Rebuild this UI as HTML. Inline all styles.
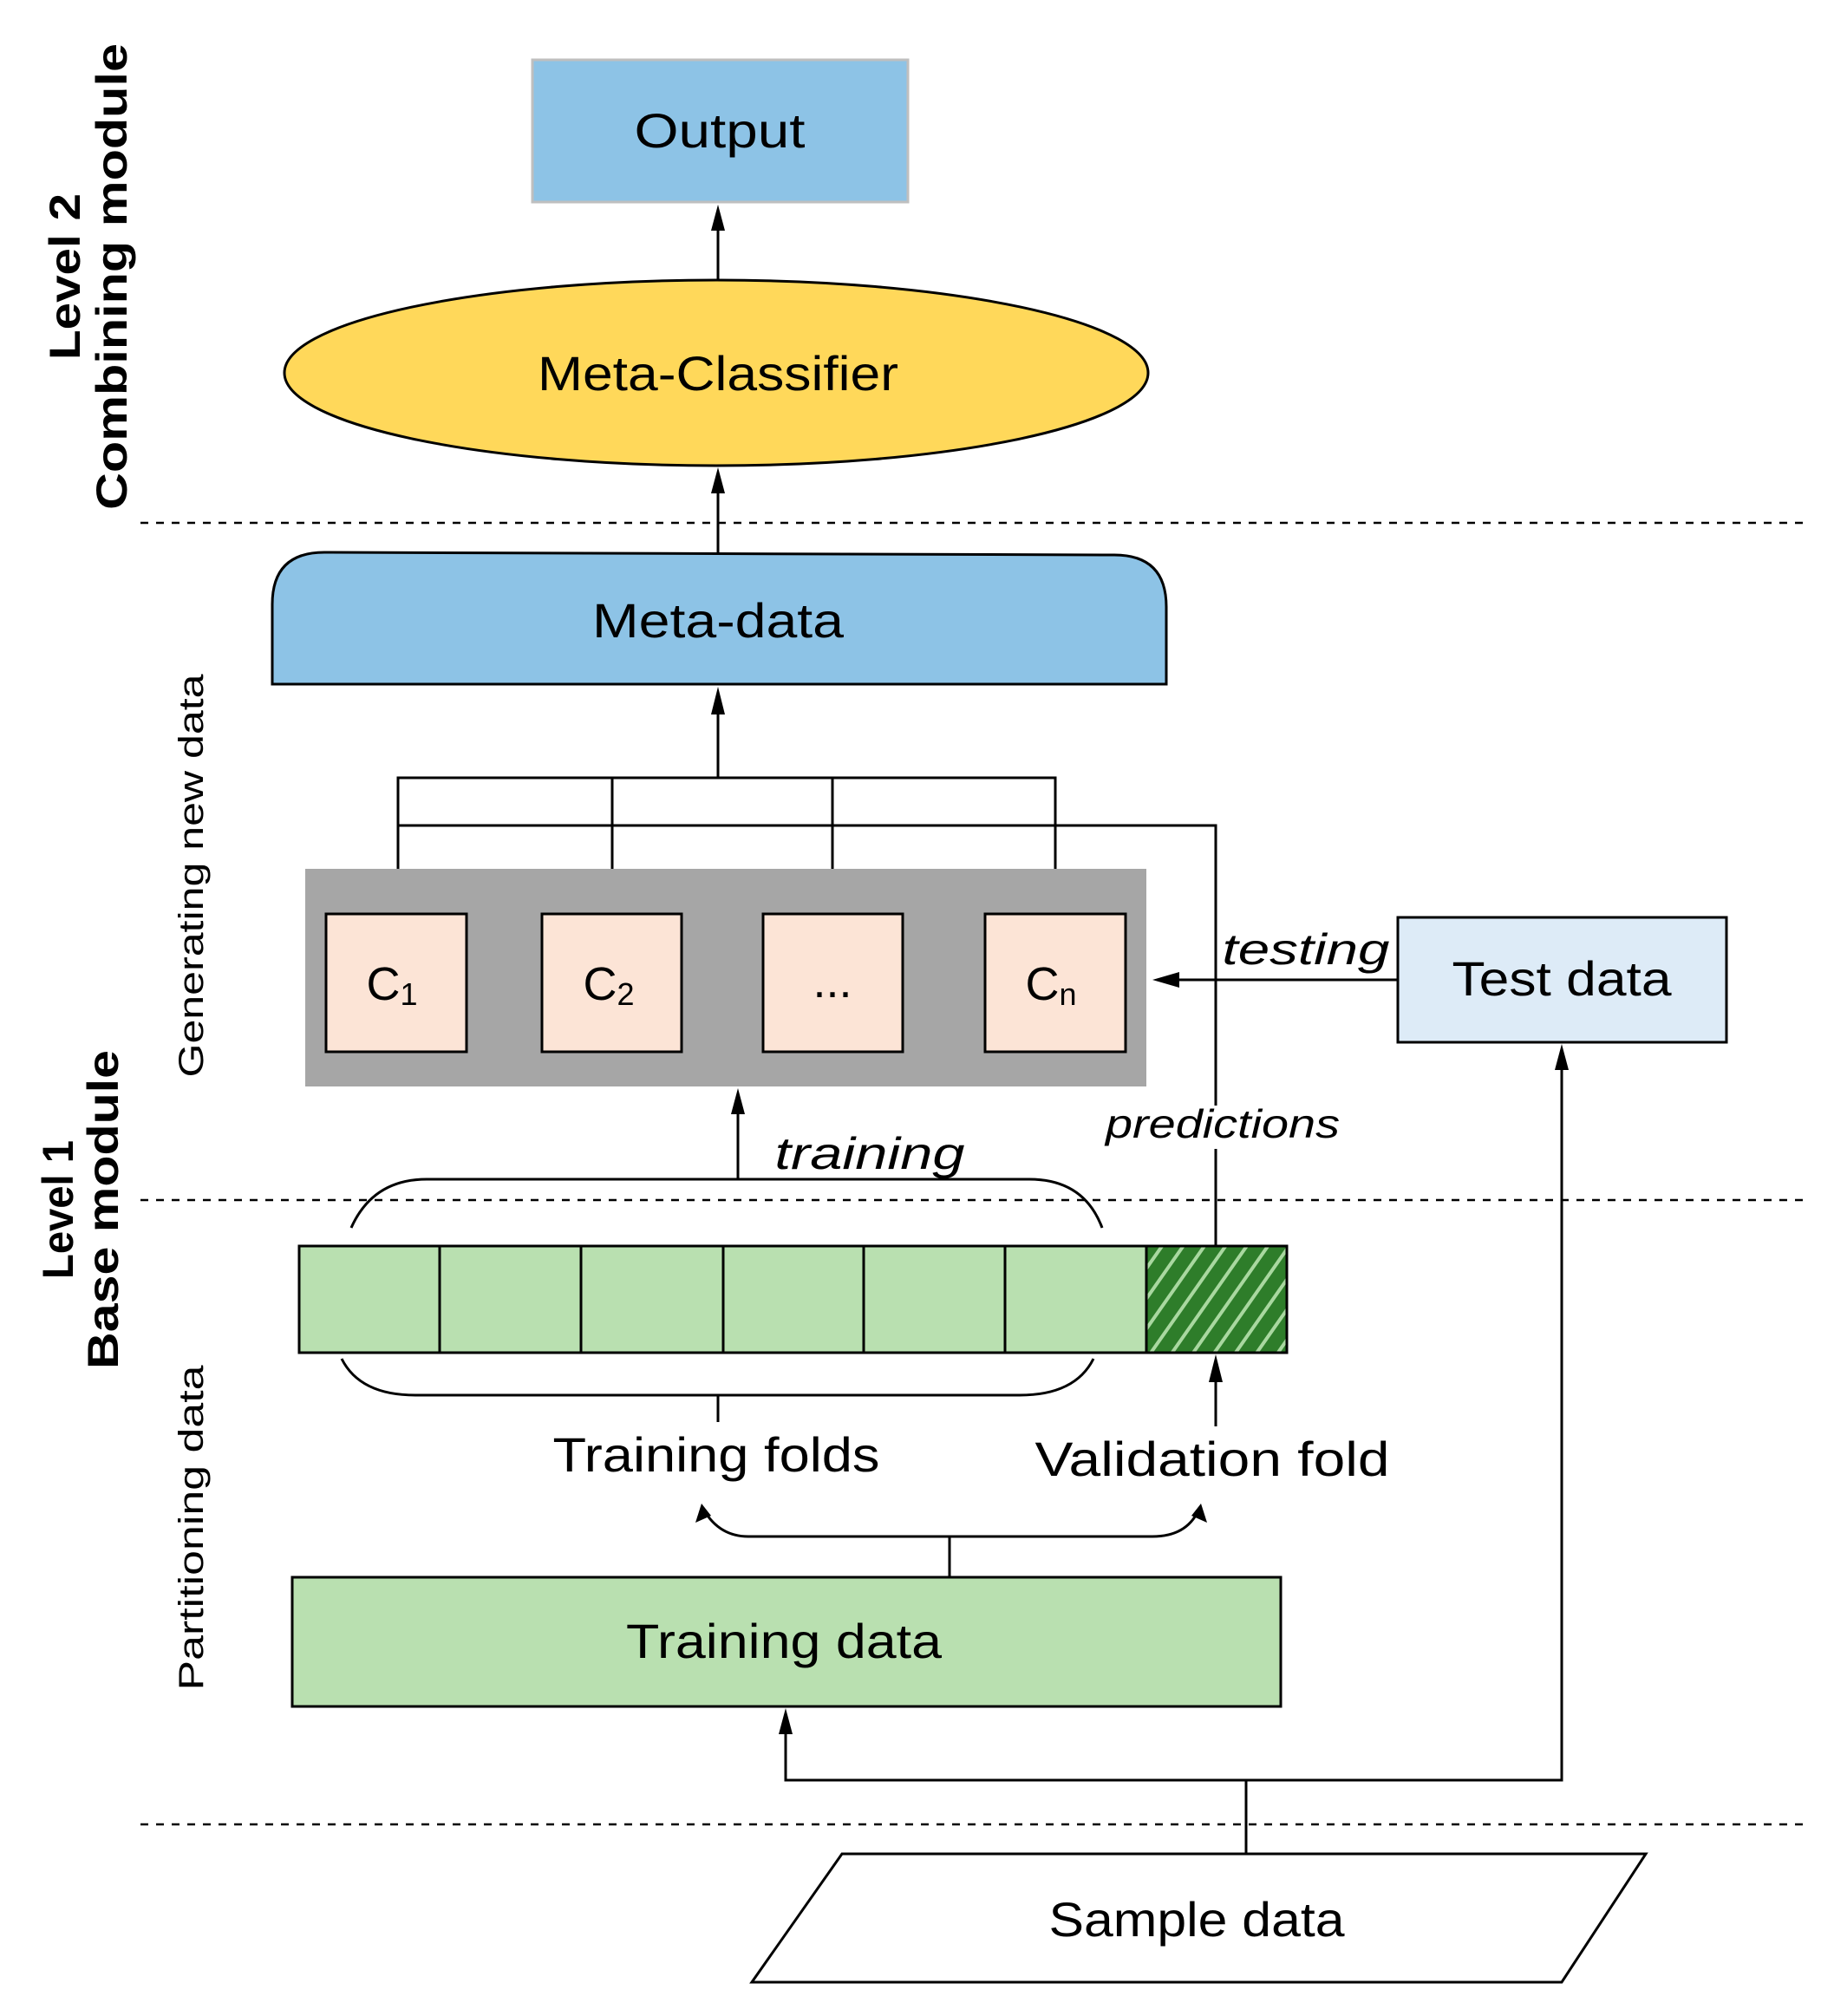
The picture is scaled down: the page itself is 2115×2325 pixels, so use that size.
<!DOCTYPE html>
<html><head><meta charset="utf-8"><style>html,body{margin:0;padding:0;background:#fff}svg{display:block}</style></head>
<body>
<svg width="2115" height="2325" viewBox="0 0 2115 2325" xmlns="http://www.w3.org/2000/svg" font-family="Liberation Sans, sans-serif">
<defs>
<marker id="ah" viewBox="0 0 10 10" refX="9" refY="5" markerWidth="7" markerHeight="7" orient="auto" markerUnits="userSpaceOnUse">
</marker>
<pattern id="hatch" patternUnits="userSpaceOnUse" width="20" height="20" patternTransform="rotate(35)">
<rect width="20" height="20" fill="#2E7D2A"/><rect x="0" y="0" width="4" height="20" fill="#A9D8A0"/>
</pattern>
</defs>
<g fill="none" stroke="#000" stroke-width="3">
<!-- dashed lines -->
<line x1="162" y1="603" x2="2080" y2="603" stroke-dasharray="9 9" stroke-width="2.5"/>
<line x1="162" y1="1384" x2="2080" y2="1384" stroke-dasharray="9 9" stroke-width="2.5"/>
<line x1="162" y1="2104" x2="2080" y2="2104" stroke-dasharray="9 9" stroke-width="2.5"/>
</g>
<!-- Output -->
<rect x="614" y="69" width="433" height="164" fill="#8DC3E6" stroke="#BFBFBF" stroke-width="3"/>
<text x="830" y="170" font-size="56" text-anchor="middle" textLength="197" lengthAdjust="spacingAndGlyphs">Output</text>
<!-- arrow ellipse->output -->
<line x1="828" y1="323" x2="828" y2="262" stroke="#000" stroke-width="3"/>
<polygon points="828,236 820,266 836,266" fill="#000"/>
<!-- Ellipse -->
<ellipse cx="826" cy="430" rx="498" ry="107" fill="#FFD85A" stroke="#000" stroke-width="3"/>
<text x="828" y="450" font-size="56" text-anchor="middle" textLength="416" lengthAdjust="spacingAndGlyphs">Meta-Classifier</text>
<!-- arrow metadata->ellipse -->
<line x1="828" y1="637" x2="828" y2="565" stroke="#000" stroke-width="3"/>
<polygon points="828,539 820,569 836,569" fill="#000"/>
<!-- Meta-data -->
<path d="M314,789 L314,697 Q314,637 374,637 L1285,640 Q1345,640 1345,700 L1345,789 Z" fill="#8DC3E6" stroke="#000" stroke-width="3"/>
<text x="828" y="735" font-size="56" text-anchor="middle" textLength="290" lengthAdjust="spacingAndGlyphs">Meta-data</text>
<!-- connectors -->
<g fill="none" stroke="#000" stroke-width="3">
<line x1="828" y1="897" x2="828" y2="820"/>
<polyline points="459,1054 459,897 1217,897 1217,1054"/>
<line x1="706" y1="897" x2="706" y2="1054"/>
<line x1="960" y1="897" x2="960" y2="1054"/>
<polyline points="459,952 1402,952 1402,1275"/>
<line x1="1402" y1="1325" x2="1402" y2="1437"/>
</g>
<polygon points="828,792 820,824 836,824" fill="#000"/>
<!-- gray panel -->
<rect x="352" y="1002" width="970" height="251" fill="#A6A6A6"/>
<g fill="#FCE4D6" stroke="#000" stroke-width="3">
<rect x="376" y="1054" width="162" height="159"/>
<rect x="625" y="1054" width="161" height="159"/>
<rect x="880" y="1054" width="161" height="159"/>
<rect x="1136" y="1054" width="162" height="159"/>
</g>
<g font-size="54" text-anchor="middle">
<text x="452" y="1153">C<tspan font-size="36" dy="6">1</tspan></text>
<text x="702" y="1153">C<tspan font-size="36" dy="6">2</tspan></text>
<text x="960" y="1150">...</text>
<text x="1212" y="1153">C<tspan font-size="36" dy="6">n</tspan></text>
</g>
<!-- Test data -->
<rect x="1612" y="1058" width="379" height="144" fill="#DDEBF7" stroke="#000" stroke-width="3"/>
<text x="1801" y="1148" font-size="56" text-anchor="middle" textLength="253" lengthAdjust="spacingAndGlyphs">Test data</text>
<line x1="1612" y1="1130" x2="1355" y2="1130" stroke="#000" stroke-width="3"/>
<polygon points="1329,1130 1360,1121 1360,1139" fill="#000"/>
<text x="1506" y="1112" font-size="50" font-style="italic" text-anchor="middle" textLength="193" lengthAdjust="spacingAndGlyphs">testing</text>
<text x="1410" y="1312" font-size="46" font-style="italic" text-anchor="middle" textLength="270" lengthAdjust="spacingAndGlyphs">predictions</text>
<!-- arrow to test data -->
<polyline points="906,1990 906,2053 1801,2053 1801,1230" fill="none" stroke="#000" stroke-width="3"/>
<polygon points="1801,1204 1793,1234 1809,1234" fill="#000"/>
<!-- training arrow -->
<line x1="851" y1="1360" x2="851" y2="1282" stroke="#000" stroke-width="3"/>
<polygon points="851,1255 843,1285 859,1285" fill="#000"/>
<text x="1003" y="1348" font-size="52" font-style="italic" text-anchor="middle" textLength="219" lengthAdjust="spacingAndGlyphs">training</text>
<!-- braces -->
<path d="M405,1416 Q430,1360 492,1360 L1187,1360 Q1250,1360 1271,1416" fill="none" stroke="#000" stroke-width="3"/>
<path d="M394,1567 Q415,1609 479,1609 L1176,1609 Q1240,1609 1261,1567" fill="none" stroke="#000" stroke-width="3"/>
<line x1="828" y1="1609" x2="828" y2="1640" stroke="#000" stroke-width="3"/>
<!-- fold bar -->
<rect x="345" y="1437" width="977" height="123" fill="#B9E0B0" stroke="#000" stroke-width="3"/>
<rect x="1322" y="1437" width="162" height="123" fill="url(#hatch)" stroke="#000" stroke-width="3"/>
<g stroke="#000" stroke-width="3">
<line x1="507" y1="1437" x2="507" y2="1560"/>
<line x1="670" y1="1437" x2="670" y2="1560"/>
<line x1="834" y1="1437" x2="834" y2="1560"/>
<line x1="996" y1="1437" x2="996" y2="1560"/>
<line x1="1159" y1="1437" x2="1159" y2="1560"/>
</g>
<line x1="1402" y1="1645" x2="1402" y2="1590" stroke="#000" stroke-width="3"/>
<polygon points="1402,1562 1394,1594 1410,1594" fill="#000"/>
<text x="826" y="1697" font-size="56" text-anchor="middle" textLength="377" lengthAdjust="spacingAndGlyphs">Training folds</text>
<text x="1398" y="1702" font-size="56" text-anchor="middle" textLength="409" lengthAdjust="spacingAndGlyphs">Validation fold</text>
<!-- curly split -->
<path d="M812,1742 Q830,1772 863,1772 L1329,1772 Q1368,1772 1382,1742" fill="none" stroke="#000" stroke-width="3"/>
<polygon points="809,1734 802,1756 820,1748" fill="#000"/>
<polygon points="1385,1734 1374,1748 1392,1756" fill="#000"/>
<line x1="1095" y1="1772" x2="1095" y2="1819" stroke="#000" stroke-width="3"/>
<!-- training data -->
<rect x="337" y="1819" width="1140" height="149" fill="#B9E0B0" stroke="#000" stroke-width="3"/>
<text x="904" y="1912" font-size="56" text-anchor="middle" textLength="364" lengthAdjust="spacingAndGlyphs">Training data</text>
<polygon points="906,1970 898,2000 914,2000" fill="#000"/>
<!-- sample data -->
<line x1="1437" y1="2053" x2="1437" y2="2138" stroke="#000" stroke-width="3"/>
<polygon points="971,2138 1898,2138 1801,2286 867,2286" fill="#fff" stroke="#000" stroke-width="3"/>
<text x="1380" y="2233" font-size="56" text-anchor="middle" textLength="341" lengthAdjust="spacingAndGlyphs">Sample data</text>
<!-- side labels -->
<g font-weight="bold" font-size="50" text-anchor="middle">
<text transform="translate(92,319) rotate(-90)" textLength="192" lengthAdjust="spacingAndGlyphs">Level 2</text>
<text transform="translate(146,319) rotate(-90)" textLength="538" lengthAdjust="spacingAndGlyphs">Combining module</text>
<text transform="translate(84,1395) rotate(-90)" textLength="160" lengthAdjust="spacingAndGlyphs">Level 1</text>
<text transform="translate(136,1395) rotate(-90)" textLength="368" lengthAdjust="spacingAndGlyphs">Base module</text>
</g>
<g font-size="40" text-anchor="middle">
<text transform="translate(234,1010) rotate(-90)" textLength="465" lengthAdjust="spacingAndGlyphs">Generating new data</text>
<text transform="translate(234,1762) rotate(-90)" textLength="375" lengthAdjust="spacingAndGlyphs">Partitioning data</text>
</g>
</svg>
</body></html>
